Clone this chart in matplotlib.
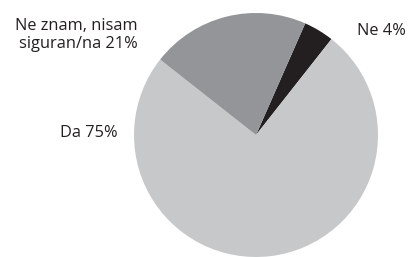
import matplotlib
matplotlib.use("Agg")
import matplotlib.pyplot as plt

categories = ["Ne", "Da", "Ne znam, nisam\nsiguran/na"]
values = [4, 75, 21]
colors = ["#231f20", "#c7c8ca", "#939598"]

W, H = 413, 257
cx, cy, r = 256, 135, 122

fig = plt.figure(figsize=(W / 100, H / 100), dpi=100)
ax = fig.add_axes([0, 0, 1, 1])
ax.pie(values, colors=colors, startangle=66.2, counterclock=False,
       radius=1, wedgeprops=dict(linewidth=0))
ax.set_xlim(-cx / r, (W - cx) / r)
ax.set_ylim(-(H - cy) / r, cy / r)
ax.set_aspect("equal")
ax.axis("off")

def px(x, y):
    return (x - cx) / r, (cy - y) / r

font = dict(family="Open Sans", fontsize=11.8, color="#231f20")
x, y = px(357, 31)
ax.text(x, y, f"{categories[0]} {values[0]}%", ha="left", va="center", **font)
x, y = px(138, 35)
ax.text(x, y, f"{categories[2]} {values[2]}%", ha="right", va="center",
        multialignment="right", linespacing=1.15, **font)
x, y = px(118, 133)
ax.text(x, y, f"{categories[1]} {values[1]}%", ha="right", va="center", **font)

fig.savefig("out.png", dpi=100)
